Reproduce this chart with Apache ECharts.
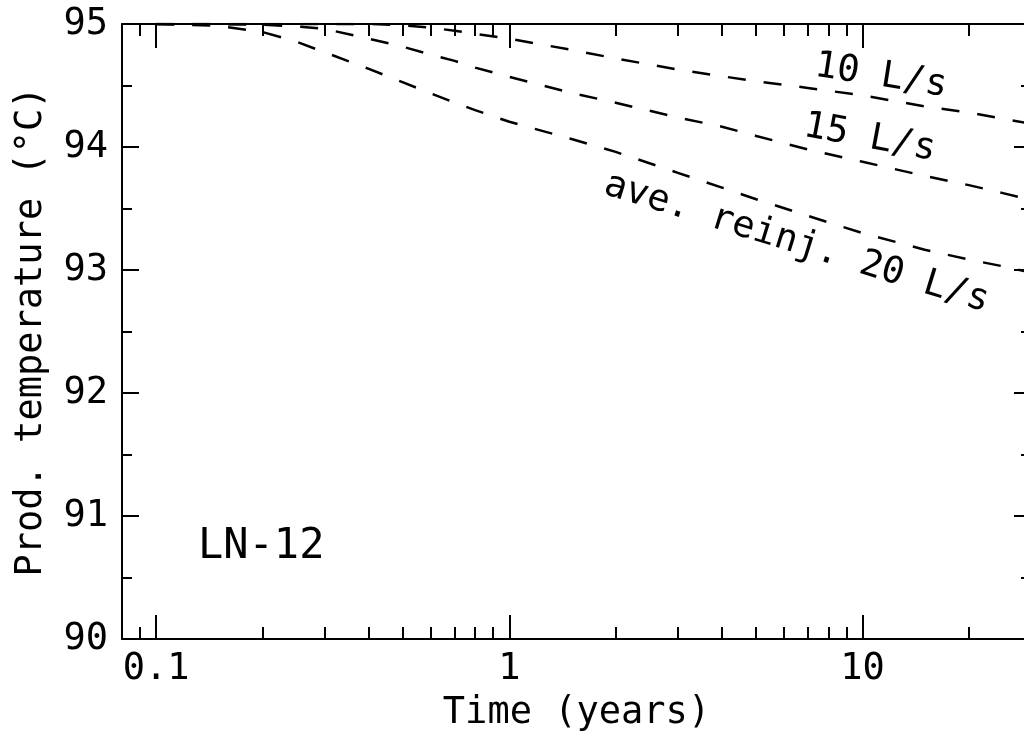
<!DOCTYPE html>
<html>
<head>
<meta charset="utf-8">
<script src="https://cdn.jsdelivr.net/npm/echarts@6/dist/echarts.min.js"></script>
<style>
html, body { margin: 0; padding: 0; background: #fff; }
#main { width: 1024px; height: 731px; }
</style>
</head>
<body>
<div id="main"></div>
<script>
// 数据
var times   = [0.1, 0.15, 0.2, 0.25, 0.3, 0.4, 0.5, 0.6, 0.7, 0.8, 1, 1.5, 2, 3, 4, 5, 7, 10, 15, 20, 25, 30];
var temp10  = [95.00, 95.00, 95.00, 95.00, 95.00, 95.00, 94.99, 94.97, 94.945, 94.92, 94.88, 94.79, 94.72, 94.63, 94.575, 94.535, 94.48, 94.42, 94.33, 94.28, 94.23, 94.19];
var temp15  = [95.00, 95.00, 94.995, 94.98, 94.96, 94.88, 94.815, 94.75, 94.70, 94.645, 94.57, 94.44, 94.36, 94.24, 94.165, 94.09, 93.98, 93.88, 93.765, 93.69, 93.625, 93.57];
var temp20  = [95.00, 94.985, 94.935, 94.855, 94.77, 94.635, 94.525, 94.435, 94.36, 94.30, 94.205, 94.065, 93.96, 93.79, 93.67, 93.575, 93.44, 93.30, 93.165, 93.085, 93.03, 92.98];
var curveNames = ['10 L/s', '15 L/s', 'ave. reinj. 20 L/s'];

var FONT = 'DejaVu Sans Mono';

function pairs(ys) {
	return times.map(function (t, i) { return [t, ys[i]]; });
}

var myChart = echarts.init(document.getElementById('main'));

var xBase = {
	type: 'log',
	logBase: 10,
	min: 0.08,
	max: 30,
	axisLine: { show: true, onZero: false, lineStyle: { color: '#000', width: 2 } },
	axisTick: { show: true, inside: true, length: 24, lineStyle: { color: '#000', width: 2 } },
	minorTick: { show: true, splitNumber: 9, length: 12, lineStyle: { color: '#000', width: 2 } },
	splitLine: { show: false },
	minorSplitLine: { show: false }
};
var yBase = {
	type: 'value',
	min: 90,
	max: 95,
	interval: 1,
	axisLine: { show: true, onZero: false, lineStyle: { color: '#000', width: 2 } },
	axisTick: { show: true, inside: true, length: 17, lineStyle: { color: '#000', width: 2 } },
	minorTick: { show: true, splitNumber: 2, length: 10, lineStyle: { color: '#000', width: 2 } },
	splitLine: { show: false },
	minorSplitLine: { show: false }
};

function lineSeries(ys) {
	return {
		type: 'line',
		data: pairs(ys),
		showSymbol: false,
		smooth: false,
		lineStyle: { color: '#000', width: 2.5, type: [18, 18] }
	};
}

var option = {
	animation: false,
	backgroundColor: '#fff',
	grid: { left: 122, top: 24, right: -7, bottom: 92, outerBoundsMode: 'none', containLabel: false },
	xAxis: [
		Object.assign({}, xBase, {
			position: 'bottom',
			axisLabel: { fontFamily: FONT, fontSize: 37, color: '#000', margin: 12, showMinLabel: false, showMaxLabel: false },
			name: 'Time (years)',
			nameLocation: 'middle',
			nameGap: 56,
			nameTextStyle: { fontFamily: FONT, fontSize: 37, color: '#000' }
		}),
		Object.assign({}, xBase, { position: 'top', axisLabel: { show: false } })
	],
	yAxis: [
		Object.assign({}, yBase, {
			position: 'left',
			axisLabel: { fontFamily: FONT, fontSize: 37, color: '#000', margin: 14 },
			name: 'Prod. temperature (°C)',
			nameLocation: 'middle',
			nameGap: 72,
			nameRotate: 90,
			nameTextStyle: { fontFamily: FONT, fontSize: 37, color: '#000' }
		}),
		Object.assign({}, yBase, { position: 'right', axisLabel: { show: false } })
	],
	series: [lineSeries(temp10), lineSeries(temp15), lineSeries(temp20)],
	graphic: [
		{ type: 'text', x: 815, y: 66, rotation: -0.155,
		  style: { text: curveNames[0], font: '37px ' + FONT, fill: '#000', align: 'left', verticalAlign: 'middle' } },
		{ type: 'text', x: 804, y: 126, rotation: -0.185,
		  style: { text: curveNames[1], font: '37px ' + FONT, fill: '#000', align: 'left', verticalAlign: 'middle' } },
		{ type: 'text', x: 605, y: 184, rotation: -0.30,
		  style: { text: curveNames[2], font: '37px ' + FONT, fill: '#000', align: 'left', verticalAlign: 'middle' } },
		{ type: 'text', x: 198, y: 547,
		  style: { text: 'LN-12', font: '42px ' + FONT, fill: '#000', align: 'left', verticalAlign: 'middle' } }
	]
};

myChart.setOption(option);
</script>
</body>
</html>
